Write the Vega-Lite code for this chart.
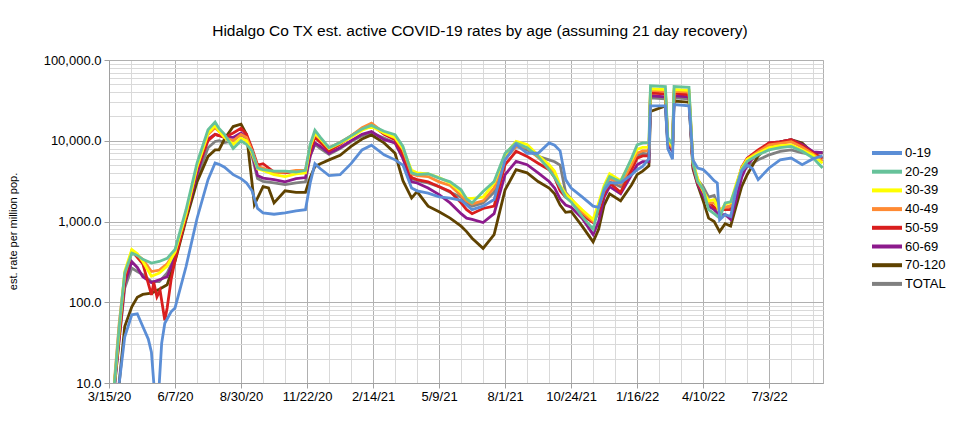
{
  "$schema": "https://vega.github.io/schema/vega-lite/v6.json",
  "width": 714,
  "height": 323,
  "autosize": "none",
  "padding": {"left": 109, "top": 60, "right": 137, "bottom": 55},
  "background": "white",
  "config": {"view": {"stroke": "#b0b0b0"}, "font": "Liberation Sans"},
  "title": {
    "text": "Hidalgo Co TX est. active COVID-19 rates by age (assuming 21 day recovery)",
    "font": "Liberation Sans", "fontSize": 15.5, "fontWeight": "normal", "color": "#000000",
    "anchor": "middle", "dx": 14, "offset": 15
  },
  "data": {"values": [
    {"d":"2020-03-22","s":"TOTAL","v":9},{"d":"2020-03-28","s":"TOTAL","v":35},{"d":"2020-04-04","s":"TOTAL","v":150},{"d":"2020-04-13","s":"TOTAL","v":265},{"d":"2020-04-20","s":"TOTAL","v":240},{"d":"2020-04-27","s":"TOTAL","v":220},{"d":"2020-05-08","s":"TOTAL","v":180},{"d":"2020-05-18","s":"TOTAL","v":180},{"d":"2020-05-28","s":"TOTAL","v":230},{"d":"2020-06-07","s":"TOTAL","v":370},{"d":"2020-06-21","s":"TOTAL","v":1150},{"d":"2020-07-05","s":"TOTAL","v":3500},{"d":"2020-07-19","s":"TOTAL","v":8200},{"d":"2020-07-28","s":"TOTAL","v":9800},{"d":"2020-08-02","s":"TOTAL","v":10000},{"d":"2020-08-09","s":"TOTAL","v":9500},{"d":"2020-08-20","s":"TOTAL","v":10000},{"d":"2020-08-30","s":"TOTAL","v":12000},{"d":"2020-09-06","s":"TOTAL","v":10500},{"d":"2020-09-13","s":"TOTAL","v":6500},{"d":"2020-09-20","s":"TOTAL","v":3400},{"d":"2020-09-27","s":"TOTAL","v":3130},{"d":"2020-10-11","s":"TOTAL","v":3000},{"d":"2020-10-25","s":"TOTAL","v":2870},{"d":"2020-11-08","s":"TOTAL","v":3000},{"d":"2020-11-20","s":"TOTAL","v":3100},{"d":"2020-11-26","s":"TOTAL","v":6500},{"d":"2020-12-02","s":"TOTAL","v":9000},{"d":"2020-12-09","s":"TOTAL","v":8000},{"d":"2020-12-20","s":"TOTAL","v":6800},
    {"d":"2021-01-03","s":"TOTAL","v":8000},{"d":"2021-01-17","s":"TOTAL","v":9800},{"d":"2021-01-31","s":"TOTAL","v":11500},{"d":"2021-02-12","s":"TOTAL","v":12500},{"d":"2021-02-28","s":"TOTAL","v":10800},{"d":"2021-03-14","s":"TOTAL","v":9400},{"d":"2021-03-24","s":"TOTAL","v":6200},{"d":"2021-04-04","s":"TOTAL","v":3400},{"d":"2021-04-11","s":"TOTAL","v":3200},{"d":"2021-04-25","s":"TOTAL","v":3000},{"d":"2021-05-09","s":"TOTAL","v":2700},{"d":"2021-05-23","s":"TOTAL","v":2300},{"d":"2021-06-06","s":"TOTAL","v":2000},{"d":"2021-06-13","s":"TOTAL","v":1700},{"d":"2021-06-20","s":"TOTAL","v":1550},{"d":"2021-07-04","s":"TOTAL","v":1700},{"d":"2021-07-18","s":"TOTAL","v":2300},{"d":"2021-08-01","s":"TOTAL","v":6000},{"d":"2021-08-15","s":"TOTAL","v":8500},{"d":"2021-08-29","s":"TOTAL","v":7700},{"d":"2021-09-12","s":"TOTAL","v":6400},{"d":"2021-09-26","s":"TOTAL","v":5800},{"d":"2021-10-03","s":"TOTAL","v":5500},{"d":"2021-10-10","s":"TOTAL","v":5000},{"d":"2021-10-17","s":"TOTAL","v":2300},{"d":"2021-10-24","s":"TOTAL","v":1900},{"d":"2021-11-07","s":"TOTAL","v":1300},{"d":"2021-11-21","s":"TOTAL","v":1000},{"d":"2021-11-28","s":"TOTAL","v":1400},{"d":"2021-12-05","s":"TOTAL","v":2300},{"d":"2021-12-12","s":"TOTAL","v":3100},{"d":"2021-12-26","s":"TOTAL","v":2700},
    {"d":"2022-01-09","s":"TOTAL","v":4600},{"d":"2022-01-16","s":"TOTAL","v":6500},{"d":"2022-01-23","s":"TOTAL","v":7000},{"d":"2022-01-31","s":"TOTAL","v":6800},{"d":"2022-02-02","s":"TOTAL","v":34000},{"d":"2022-02-21","s":"TOTAL","v":33000},{"d":"2022-02-24","s":"TOTAL","v":9500},{"d":"2022-03-02","s":"TOTAL","v":8000},{"d":"2022-03-04","s":"TOTAL","v":34000},{"d":"2022-03-23","s":"TOTAL","v":33000},{"d":"2022-03-28","s":"TOTAL","v":5300},{"d":"2022-04-03","s":"TOTAL","v":3300},{"d":"2022-04-10","s":"TOTAL","v":2700},{"d":"2022-04-17","s":"TOTAL","v":2000},{"d":"2022-04-24","s":"TOTAL","v":2100},{"d":"2022-05-01","s":"TOTAL","v":1400},{"d":"2022-05-08","s":"TOTAL","v":1500},{"d":"2022-05-15","s":"TOTAL","v":1550},{"d":"2022-05-22","s":"TOTAL","v":2500},{"d":"2022-05-29","s":"TOTAL","v":4000},{"d":"2022-06-05","s":"TOTAL","v":4800},{"d":"2022-06-19","s":"TOTAL","v":5800},{"d":"2022-07-03","s":"TOTAL","v":6700},{"d":"2022-07-17","s":"TOTAL","v":7400},{"d":"2022-07-31","s":"TOTAL","v":7700},{"d":"2022-08-14","s":"TOTAL","v":7100},{"d":"2022-08-28","s":"TOTAL","v":6800},{"d":"2022-09-09","s":"TOTAL","v":6000},

    {"d":"2020-03-28","s":"70-120","v":10},{"d":"2020-04-04","s":"70-120","v":50},{"d":"2020-04-13","s":"70-120","v":88},{"d":"2020-04-20","s":"70-120","v":115},{"d":"2020-04-27","s":"70-120","v":125},{"d":"2020-05-08","s":"70-120","v":130},{"d":"2020-05-18","s":"70-120","v":145},{"d":"2020-05-28","s":"70-120","v":165},{"d":"2020-06-07","s":"70-120","v":320},{"d":"2020-06-21","s":"70-120","v":1050},{"d":"2020-07-05","s":"70-120","v":3100},{"d":"2020-07-19","s":"70-120","v":6400},{"d":"2020-07-28","s":"70-120","v":7700},{"d":"2020-08-02","s":"70-120","v":7700},{"d":"2020-08-09","s":"70-120","v":10500},{"d":"2020-08-20","s":"70-120","v":15000},{"d":"2020-08-30","s":"70-120","v":16000},{"d":"2020-09-06","s":"70-120","v":12000},{"d":"2020-09-13","s":"70-120","v":3000},{"d":"2020-09-16","s":"70-120","v":1620},{"d":"2020-09-27","s":"70-120","v":2700},{"d":"2020-10-04","s":"70-120","v":2600},{"d":"2020-10-11","s":"70-120","v":1700},{"d":"2020-10-25","s":"70-120","v":2400},{"d":"2020-11-08","s":"70-120","v":2300},{"d":"2020-11-20","s":"70-120","v":2300},{"d":"2020-11-26","s":"70-120","v":3500},{"d":"2020-12-02","s":"70-120","v":4800},{"d":"2020-12-09","s":"70-120","v":5200},{"d":"2020-12-20","s":"70-120","v":5800},
    {"d":"2021-01-03","s":"70-120","v":6600},{"d":"2021-01-17","s":"70-120","v":8500},{"d":"2021-01-31","s":"70-120","v":10500},{"d":"2021-02-12","s":"70-120","v":11800},{"d":"2021-02-28","s":"70-120","v":9400},{"d":"2021-03-14","s":"70-120","v":7000},{"d":"2021-03-24","s":"70-120","v":3200},{"d":"2021-04-04","s":"70-120","v":1950},{"d":"2021-04-11","s":"70-120","v":2350},{"d":"2021-04-25","s":"70-120","v":1550},{"d":"2021-05-09","s":"70-120","v":1320},{"d":"2021-05-23","s":"70-120","v":1100},{"d":"2021-06-06","s":"70-120","v":875},{"d":"2021-06-13","s":"70-120","v":750},{"d":"2021-06-20","s":"70-120","v":620},{"d":"2021-07-04","s":"70-120","v":465},{"d":"2021-07-18","s":"70-120","v":690},{"d":"2021-08-01","s":"70-120","v":2470},{"d":"2021-08-15","s":"70-120","v":4380},{"d":"2021-08-29","s":"70-120","v":4000},{"d":"2021-09-12","s":"70-120","v":3130},{"d":"2021-09-26","s":"70-120","v":2600},{"d":"2021-10-03","s":"70-120","v":2200},{"d":"2021-10-10","s":"70-120","v":1600},{"d":"2021-10-17","s":"70-120","v":1300},{"d":"2021-10-24","s":"70-120","v":1330},{"d":"2021-11-07","s":"70-120","v":875},{"d":"2021-11-21","s":"70-120","v":560},{"d":"2021-11-28","s":"70-120","v":800},{"d":"2021-12-05","s":"70-120","v":1600},{"d":"2021-12-12","s":"70-120","v":2200},{"d":"2021-12-26","s":"70-120","v":1800},
    {"d":"2022-01-09","s":"70-120","v":2850},{"d":"2022-01-16","s":"70-120","v":3800},{"d":"2022-01-23","s":"70-120","v":4200},{"d":"2022-01-31","s":"70-120","v":4900},{"d":"2022-02-02","s":"70-120","v":23000},{"d":"2022-02-21","s":"70-120","v":27000},{"d":"2022-02-24","s":"70-120","v":9000},{"d":"2022-03-02","s":"70-120","v":7500},{"d":"2022-03-04","s":"70-120","v":31000},{"d":"2022-03-23","s":"70-120","v":30000},{"d":"2022-03-28","s":"70-120","v":4500},{"d":"2022-04-03","s":"70-120","v":2850},{"d":"2022-04-10","s":"70-120","v":1800},{"d":"2022-04-17","s":"70-120","v":1100},{"d":"2022-04-24","s":"70-120","v":1000},{"d":"2022-05-01","s":"70-120","v":750},{"d":"2022-05-08","s":"70-120","v":940},{"d":"2022-05-15","s":"70-120","v":880},{"d":"2022-05-22","s":"70-120","v":1550},{"d":"2022-05-29","s":"70-120","v":2700},{"d":"2022-06-05","s":"70-120","v":3800},{"d":"2022-06-19","s":"70-120","v":6500},{"d":"2022-07-03","s":"70-120","v":8700},{"d":"2022-07-17","s":"70-120","v":9700},{"d":"2022-07-31","s":"70-120","v":10300},{"d":"2022-08-14","s":"70-120","v":9400},{"d":"2022-08-28","s":"70-120","v":7000},{"d":"2022-09-09","s":"70-120","v":7100},

    {"d":"2020-03-22","s":"60-69","v":9},{"d":"2020-03-28","s":"60-69","v":35},{"d":"2020-04-04","s":"60-69","v":170},{"d":"2020-04-13","s":"60-69","v":318},{"d":"2020-04-20","s":"60-69","v":270},{"d":"2020-04-27","s":"60-69","v":207},{"d":"2020-05-08","s":"60-69","v":175},{"d":"2020-05-18","s":"60-69","v":190},{"d":"2020-05-28","s":"60-69","v":207},{"d":"2020-06-07","s":"60-69","v":360},{"d":"2020-06-21","s":"60-69","v":1150},{"d":"2020-07-05","s":"60-69","v":3900},{"d":"2020-07-19","s":"60-69","v":10500},{"d":"2020-07-28","s":"60-69","v":12000},{"d":"2020-08-02","s":"60-69","v":11600},{"d":"2020-08-09","s":"60-69","v":11000},{"d":"2020-08-20","s":"60-69","v":11000},{"d":"2020-08-30","s":"60-69","v":12500},{"d":"2020-09-06","s":"60-69","v":11000},{"d":"2020-09-13","s":"60-69","v":7000},{"d":"2020-09-20","s":"60-69","v":3700},{"d":"2020-09-27","s":"60-69","v":3450},{"d":"2020-10-11","s":"60-69","v":3300},{"d":"2020-10-25","s":"60-69","v":3100},{"d":"2020-11-08","s":"60-69","v":3400},{"d":"2020-11-20","s":"60-69","v":3500},{"d":"2020-11-26","s":"60-69","v":6500},{"d":"2020-12-02","s":"60-69","v":9400},{"d":"2020-12-09","s":"60-69","v":8500},{"d":"2020-12-20","s":"60-69","v":7000},
    {"d":"2021-01-03","s":"60-69","v":8200},{"d":"2021-01-17","s":"60-69","v":10000},{"d":"2021-01-31","s":"60-69","v":12000},{"d":"2021-02-12","s":"60-69","v":13000},{"d":"2021-02-28","s":"60-69","v":10300},{"d":"2021-03-14","s":"60-69","v":9400},{"d":"2021-03-24","s":"60-69","v":6000},{"d":"2021-04-04","s":"60-69","v":3100},{"d":"2021-04-11","s":"60-69","v":3000},{"d":"2021-04-25","s":"60-69","v":2600},{"d":"2021-05-09","s":"60-69","v":2150},{"d":"2021-05-23","s":"60-69","v":1700},{"d":"2021-06-06","s":"60-69","v":1250},{"d":"2021-06-13","s":"60-69","v":1100},{"d":"2021-06-20","s":"60-69","v":1060},{"d":"2021-07-04","s":"60-69","v":970},{"d":"2021-07-18","s":"60-69","v":1250},{"d":"2021-08-01","s":"60-69","v":3800},{"d":"2021-08-15","s":"60-69","v":5550},{"d":"2021-08-29","s":"60-69","v":5050},{"d":"2021-09-12","s":"60-69","v":4000},{"d":"2021-09-26","s":"60-69","v":3130},{"d":"2021-10-03","s":"60-69","v":2600},{"d":"2021-10-10","s":"60-69","v":1900},{"d":"2021-10-17","s":"60-69","v":1600},{"d":"2021-10-24","s":"60-69","v":1500},{"d":"2021-11-07","s":"60-69","v":1100},{"d":"2021-11-21","s":"60-69","v":690},{"d":"2021-11-28","s":"60-69","v":1000},{"d":"2021-12-05","s":"60-69","v":2000},{"d":"2021-12-12","s":"60-69","v":2700},{"d":"2021-12-26","s":"60-69","v":2200},
    {"d":"2022-01-09","s":"60-69","v":3800},{"d":"2022-01-16","s":"60-69","v":5050},{"d":"2022-01-23","s":"60-69","v":5500},{"d":"2022-01-31","s":"60-69","v":5500},{"d":"2022-02-02","s":"60-69","v":36000},{"d":"2022-02-21","s":"60-69","v":35000},{"d":"2022-02-24","s":"60-69","v":9500},{"d":"2022-03-02","s":"60-69","v":7500},{"d":"2022-03-04","s":"60-69","v":36000},{"d":"2022-03-23","s":"60-69","v":35000},{"d":"2022-03-28","s":"60-69","v":4800},{"d":"2022-04-03","s":"60-69","v":2900},{"d":"2022-04-10","s":"60-69","v":2100},{"d":"2022-04-17","s":"60-69","v":1550},{"d":"2022-04-24","s":"60-69","v":1400},{"d":"2022-05-01","s":"60-69","v":1200},{"d":"2022-05-08","s":"60-69","v":1220},{"d":"2022-05-15","s":"60-69","v":1060},{"d":"2022-05-22","s":"60-69","v":1870},{"d":"2022-05-29","s":"60-69","v":3500},{"d":"2022-06-05","s":"60-69","v":5050},{"d":"2022-06-19","s":"60-69","v":7200},{"d":"2022-07-03","s":"60-69","v":9400},{"d":"2022-07-17","s":"60-69","v":9700},{"d":"2022-07-31","s":"60-69","v":10300},{"d":"2022-08-14","s":"60-69","v":9000},{"d":"2022-08-28","s":"60-69","v":7300},{"d":"2022-09-09","s":"60-69","v":7100},

    {"d":"2020-03-22","s":"50-59","v":10},{"d":"2020-03-28","s":"50-59","v":38},{"d":"2020-04-04","s":"50-59","v":190},{"d":"2020-04-13","s":"50-59","v":430},{"d":"2020-04-20","s":"50-59","v":360},{"d":"2020-04-27","s":"50-59","v":300},{"d":"2020-05-08","s":"50-59","v":123},{"d":"2020-05-11","s":"50-59","v":175},{"d":"2020-05-15","s":"50-59","v":117},{"d":"2020-05-19","s":"50-59","v":140},{"d":"2020-05-25","s":"50-59","v":60},{"d":"2020-05-28","s":"50-59","v":85},{"d":"2020-06-02","s":"50-59","v":190},{"d":"2020-06-07","s":"50-59","v":330},{"d":"2020-06-21","s":"50-59","v":1150},{"d":"2020-07-05","s":"50-59","v":4500},{"d":"2020-07-19","s":"50-59","v":10000},{"d":"2020-07-28","s":"50-59","v":12000},{"d":"2020-08-02","s":"50-59","v":11600},{"d":"2020-08-09","s":"50-59","v":11000},{"d":"2020-08-20","s":"50-59","v":12500},{"d":"2020-08-30","s":"50-59","v":14300},{"d":"2020-09-06","s":"50-59","v":12000},{"d":"2020-09-13","s":"50-59","v":8000},{"d":"2020-09-20","s":"50-59","v":5000},{"d":"2020-09-27","s":"50-59","v":5200},{"d":"2020-10-11","s":"50-59","v":4100},{"d":"2020-10-25","s":"50-59","v":4000},{"d":"2020-11-08","s":"50-59","v":4200},{"d":"2020-11-20","s":"50-59","v":4200},{"d":"2020-11-26","s":"50-59","v":7500},{"d":"2020-12-02","s":"50-59","v":11000},{"d":"2020-12-09","s":"50-59","v":9500},{"d":"2020-12-20","s":"50-59","v":7500},
    {"d":"2021-01-03","s":"50-59","v":9000},{"d":"2021-01-17","s":"50-59","v":11500},{"d":"2021-01-31","s":"50-59","v":14000},{"d":"2021-02-12","s":"50-59","v":15800},{"d":"2021-02-28","s":"50-59","v":12000},{"d":"2021-03-14","s":"50-59","v":10300},{"d":"2021-03-24","s":"50-59","v":6800},{"d":"2021-04-04","s":"50-59","v":3500},{"d":"2021-04-11","s":"50-59","v":3300},{"d":"2021-04-25","s":"50-59","v":3100},{"d":"2021-05-09","s":"50-59","v":2700},{"d":"2021-05-23","s":"50-59","v":2350},{"d":"2021-06-06","s":"50-59","v":1700},{"d":"2021-06-13","s":"50-59","v":1400},{"d":"2021-06-20","s":"50-59","v":1250},{"d":"2021-07-04","s":"50-59","v":1450},{"d":"2021-07-18","s":"50-59","v":1550},{"d":"2021-08-01","s":"50-59","v":5050},{"d":"2021-08-15","s":"50-59","v":7400},{"d":"2021-08-29","s":"50-59","v":6400},{"d":"2021-09-12","s":"50-59","v":5270},{"d":"2021-09-26","s":"50-59","v":4380},{"d":"2021-10-03","s":"50-59","v":3500},{"d":"2021-10-10","s":"50-59","v":2400},{"d":"2021-10-17","s":"50-59","v":2000},{"d":"2021-10-24","s":"50-59","v":1850},{"d":"2021-11-07","s":"50-59","v":1200},{"d":"2021-11-21","s":"50-59","v":970},{"d":"2021-11-28","s":"50-59","v":1300},{"d":"2021-12-05","s":"50-59","v":2200},{"d":"2021-12-12","s":"50-59","v":3000},{"d":"2021-12-26","s":"50-59","v":2300},
    {"d":"2022-01-09","s":"50-59","v":4380},{"d":"2022-01-16","s":"50-59","v":6100},{"d":"2022-01-23","s":"50-59","v":6500},{"d":"2022-01-31","s":"50-59","v":6500},{"d":"2022-02-02","s":"50-59","v":39000},{"d":"2022-02-21","s":"50-59","v":38000},{"d":"2022-02-24","s":"50-59","v":10000},{"d":"2022-03-02","s":"50-59","v":8000},{"d":"2022-03-04","s":"50-59","v":39000},{"d":"2022-03-23","s":"50-59","v":37000},{"d":"2022-03-28","s":"50-59","v":5000},{"d":"2022-04-03","s":"50-59","v":3000},{"d":"2022-04-10","s":"50-59","v":2300},{"d":"2022-04-17","s":"50-59","v":1750},{"d":"2022-04-24","s":"50-59","v":1500},{"d":"2022-05-01","s":"50-59","v":1400},{"d":"2022-05-08","s":"50-59","v":1400},{"d":"2022-05-15","s":"50-59","v":1400},{"d":"2022-05-22","s":"50-59","v":2700},{"d":"2022-05-29","s":"50-59","v":4700},{"d":"2022-06-05","s":"50-59","v":6100},{"d":"2022-06-19","s":"50-59","v":7700},{"d":"2022-07-03","s":"50-59","v":9400},{"d":"2022-07-17","s":"50-59","v":9700},{"d":"2022-07-31","s":"50-59","v":10300},{"d":"2022-08-14","s":"50-59","v":8700},{"d":"2022-08-28","s":"50-59","v":7000},{"d":"2022-09-09","s":"50-59","v":6100},

    {"d":"2020-03-22","s":"40-49","v":11},{"d":"2020-03-28","s":"40-49","v":55},{"d":"2020-04-04","s":"40-49","v":220},{"d":"2020-04-13","s":"40-49","v":430},{"d":"2020-04-20","s":"40-49","v":380},{"d":"2020-04-27","s":"40-49","v":340},{"d":"2020-05-08","s":"40-49","v":240},{"d":"2020-05-18","s":"40-49","v":250},{"d":"2020-05-28","s":"40-49","v":300},{"d":"2020-06-07","s":"40-49","v":420},{"d":"2020-06-21","s":"40-49","v":1250},{"d":"2020-07-05","s":"40-49","v":4800},{"d":"2020-07-19","s":"40-49","v":12000},{"d":"2020-07-28","s":"40-49","v":14500},{"d":"2020-08-02","s":"40-49","v":13000},{"d":"2020-08-09","s":"40-49","v":11000},{"d":"2020-08-20","s":"40-49","v":10000},{"d":"2020-08-30","s":"40-49","v":12000},{"d":"2020-09-06","s":"40-49","v":11000},{"d":"2020-09-13","s":"40-49","v":7500},{"d":"2020-09-20","s":"40-49","v":4800},{"d":"2020-09-27","s":"40-49","v":4600},{"d":"2020-10-11","s":"40-49","v":4000},{"d":"2020-10-25","s":"40-49","v":4100},{"d":"2020-11-08","s":"40-49","v":4300},{"d":"2020-11-20","s":"40-49","v":4300},{"d":"2020-11-26","s":"40-49","v":8500},{"d":"2020-12-02","s":"40-49","v":12000},{"d":"2020-12-09","s":"40-49","v":10500},{"d":"2020-12-20","s":"40-49","v":8200},
    {"d":"2021-01-03","s":"40-49","v":9500},{"d":"2021-01-17","s":"40-49","v":11500},{"d":"2021-01-31","s":"40-49","v":14500},{"d":"2021-02-12","s":"40-49","v":16500},{"d":"2021-02-28","s":"40-49","v":12500},{"d":"2021-03-14","s":"40-49","v":10800},{"d":"2021-03-24","s":"40-49","v":7800},{"d":"2021-04-04","s":"40-49","v":3900},{"d":"2021-04-11","s":"40-49","v":3700},{"d":"2021-04-25","s":"40-49","v":3600},{"d":"2021-05-09","s":"40-49","v":3100},{"d":"2021-05-23","s":"40-49","v":2800},{"d":"2021-06-06","s":"40-49","v":2100},{"d":"2021-06-13","s":"40-49","v":1800},{"d":"2021-06-20","s":"40-49","v":1650},{"d":"2021-07-04","s":"40-49","v":1800},{"d":"2021-07-18","s":"40-49","v":2600},{"d":"2021-08-01","s":"40-49","v":6300},{"d":"2021-08-15","s":"40-49","v":8500},{"d":"2021-08-29","s":"40-49","v":8200},{"d":"2021-09-12","s":"40-49","v":6200},{"d":"2021-09-26","s":"40-49","v":4800},{"d":"2021-10-03","s":"40-49","v":4000},{"d":"2021-10-10","s":"40-49","v":2700},{"d":"2021-10-17","s":"40-49","v":2100},{"d":"2021-10-24","s":"40-49","v":1850},{"d":"2021-11-07","s":"40-49","v":1300},{"d":"2021-11-21","s":"40-49","v":1000},{"d":"2021-11-28","s":"40-49","v":1500},{"d":"2021-12-05","s":"40-49","v":2500},{"d":"2021-12-12","s":"40-49","v":3400},{"d":"2021-12-26","s":"40-49","v":2900},
    {"d":"2022-01-09","s":"40-49","v":5050},{"d":"2022-01-16","s":"40-49","v":7000},{"d":"2022-01-23","s":"40-49","v":7500},{"d":"2022-01-31","s":"40-49","v":7500},{"d":"2022-02-02","s":"40-49","v":42000},{"d":"2022-02-21","s":"40-49","v":41000},{"d":"2022-02-24","s":"40-49","v":10000},{"d":"2022-03-02","s":"40-49","v":8000},{"d":"2022-03-04","s":"40-49","v":41000},{"d":"2022-03-23","s":"40-49","v":40000},{"d":"2022-03-28","s":"40-49","v":5300},{"d":"2022-04-03","s":"40-49","v":3200},{"d":"2022-04-10","s":"40-49","v":2400},{"d":"2022-04-17","s":"40-49","v":1700},{"d":"2022-04-24","s":"40-49","v":1700},{"d":"2022-05-01","s":"40-49","v":1400},{"d":"2022-05-08","s":"40-49","v":1500},{"d":"2022-05-15","s":"40-49","v":1550},{"d":"2022-05-22","s":"40-49","v":2600},{"d":"2022-05-29","s":"40-49","v":4500},{"d":"2022-06-05","s":"40-49","v":5900},{"d":"2022-06-19","s":"40-49","v":7300},{"d":"2022-07-03","s":"40-49","v":8900},{"d":"2022-07-17","s":"40-49","v":9300},{"d":"2022-07-31","s":"40-49","v":9700},{"d":"2022-08-14","s":"40-49","v":8300},{"d":"2022-08-28","s":"40-49","v":6800},{"d":"2022-09-09","s":"40-49","v":5600},

    {"d":"2020-03-22","s":"30-39","v":10},{"d":"2020-03-28","s":"30-39","v":45},{"d":"2020-04-04","s":"30-39","v":240},{"d":"2020-04-13","s":"30-39","v":450},{"d":"2020-04-20","s":"30-39","v":400},{"d":"2020-04-27","s":"30-39","v":320},{"d":"2020-05-08","s":"30-39","v":210},{"d":"2020-05-18","s":"30-39","v":230},{"d":"2020-05-28","s":"30-39","v":280},{"d":"2020-06-07","s":"30-39","v":420},{"d":"2020-06-21","s":"30-39","v":1250},{"d":"2020-07-05","s":"30-39","v":4800},{"d":"2020-07-19","s":"30-39","v":12400},{"d":"2020-07-28","s":"30-39","v":15500},{"d":"2020-08-02","s":"30-39","v":13100},{"d":"2020-08-09","s":"30-39","v":11000},{"d":"2020-08-20","s":"30-39","v":9000},{"d":"2020-08-30","s":"30-39","v":10800},{"d":"2020-09-06","s":"30-39","v":10000},{"d":"2020-09-13","s":"30-39","v":7000},{"d":"2020-09-20","s":"30-39","v":4500},{"d":"2020-09-27","s":"30-39","v":4300},{"d":"2020-10-11","s":"30-39","v":3800},{"d":"2020-10-25","s":"30-39","v":3600},{"d":"2020-11-08","s":"30-39","v":3900},{"d":"2020-11-20","s":"30-39","v":4000},{"d":"2020-11-26","s":"30-39","v":8500},{"d":"2020-12-02","s":"30-39","v":12500},{"d":"2020-12-09","s":"30-39","v":10500},{"d":"2020-12-20","s":"30-39","v":8000},
    {"d":"2021-01-03","s":"30-39","v":9300},{"d":"2021-01-17","s":"30-39","v":11000},{"d":"2021-01-31","s":"30-39","v":13500},{"d":"2021-02-12","s":"30-39","v":15000},{"d":"2021-02-28","s":"30-39","v":12500},{"d":"2021-03-14","s":"30-39","v":11000},{"d":"2021-03-24","s":"30-39","v":8000},{"d":"2021-04-04","s":"30-39","v":4300},{"d":"2021-04-11","s":"30-39","v":4000},{"d":"2021-04-25","s":"30-39","v":3900},{"d":"2021-05-09","s":"30-39","v":3500},{"d":"2021-05-23","s":"30-39","v":3000},{"d":"2021-06-06","s":"30-39","v":2300},{"d":"2021-06-13","s":"30-39","v":1950},{"d":"2021-06-20","s":"30-39","v":1930},{"d":"2021-07-04","s":"30-39","v":2000},{"d":"2021-07-18","s":"30-39","v":3000},{"d":"2021-08-01","s":"30-39","v":6700},{"d":"2021-08-15","s":"30-39","v":9800},{"d":"2021-08-29","s":"30-39","v":9000},{"d":"2021-09-12","s":"30-39","v":6600},{"d":"2021-09-26","s":"30-39","v":5050},{"d":"2021-10-03","s":"30-39","v":4200},{"d":"2021-10-10","s":"30-39","v":2800},{"d":"2021-10-17","s":"30-39","v":2200},{"d":"2021-10-24","s":"30-39","v":1900},{"d":"2021-11-07","s":"30-39","v":1400},{"d":"2021-11-21","s":"30-39","v":1060},{"d":"2021-11-28","s":"30-39","v":1700},{"d":"2021-12-05","s":"30-39","v":2800},{"d":"2021-12-12","s":"30-39","v":3900},{"d":"2021-12-26","s":"30-39","v":3200},
    {"d":"2022-01-09","s":"30-39","v":5800},{"d":"2022-01-16","s":"30-39","v":7800},{"d":"2022-01-23","s":"30-39","v":8300},{"d":"2022-01-31","s":"30-39","v":8300},{"d":"2022-02-02","s":"30-39","v":44000},{"d":"2022-02-21","s":"30-39","v":43000},{"d":"2022-02-24","s":"30-39","v":10500},{"d":"2022-03-02","s":"30-39","v":8500},{"d":"2022-03-04","s":"30-39","v":43000},{"d":"2022-03-23","s":"30-39","v":42000},{"d":"2022-03-28","s":"30-39","v":5500},{"d":"2022-04-03","s":"30-39","v":3400},{"d":"2022-04-10","s":"30-39","v":2400},{"d":"2022-04-17","s":"30-39","v":1800},{"d":"2022-04-24","s":"30-39","v":1870},{"d":"2022-05-01","s":"30-39","v":1300},{"d":"2022-05-08","s":"30-39","v":1650},{"d":"2022-05-15","s":"30-39","v":1700},{"d":"2022-05-22","s":"30-39","v":2900},{"d":"2022-05-29","s":"30-39","v":4600},{"d":"2022-06-05","s":"30-39","v":5900},{"d":"2022-06-19","s":"30-39","v":7000},{"d":"2022-07-03","s":"30-39","v":8200},{"d":"2022-07-17","s":"30-39","v":8700},{"d":"2022-07-31","s":"30-39","v":8900},{"d":"2022-08-14","s":"30-39","v":7700},{"d":"2022-08-28","s":"30-39","v":6600},{"d":"2022-09-09","s":"30-39","v":5270},

    {"d":"2020-03-22","s":"20-29","v":10},{"d":"2020-03-28","s":"20-29","v":50},{"d":"2020-04-04","s":"20-29","v":230},{"d":"2020-04-13","s":"20-29","v":405},{"d":"2020-04-20","s":"20-29","v":380},{"d":"2020-04-27","s":"20-29","v":340},{"d":"2020-05-08","s":"20-29","v":305},{"d":"2020-05-18","s":"20-29","v":320},{"d":"2020-05-28","s":"20-29","v":350},{"d":"2020-06-07","s":"20-29","v":450},{"d":"2020-06-21","s":"20-29","v":1400},{"d":"2020-07-05","s":"20-29","v":5300},{"d":"2020-07-19","s":"20-29","v":13700},{"d":"2020-07-28","s":"20-29","v":17000},{"d":"2020-08-02","s":"20-29","v":14200},{"d":"2020-08-09","s":"20-29","v":12000},{"d":"2020-08-20","s":"20-29","v":8000},{"d":"2020-08-30","s":"20-29","v":10000},{"d":"2020-09-06","s":"20-29","v":9000},{"d":"2020-09-13","s":"20-29","v":7500},{"d":"2020-09-20","s":"20-29","v":4600},{"d":"2020-09-27","s":"20-29","v":4400},{"d":"2020-10-11","s":"20-29","v":4200},{"d":"2020-10-25","s":"20-29","v":4200},{"d":"2020-11-08","s":"20-29","v":4100},{"d":"2020-11-20","s":"20-29","v":4300},{"d":"2020-11-26","s":"20-29","v":9000},{"d":"2020-12-02","s":"20-29","v":13500},{"d":"2020-12-09","s":"20-29","v":11000},{"d":"2020-12-20","s":"20-29","v":8200},
    {"d":"2021-01-03","s":"20-29","v":9500},{"d":"2021-01-17","s":"20-29","v":11500},{"d":"2021-01-31","s":"20-29","v":14000},{"d":"2021-02-12","s":"20-29","v":15500},{"d":"2021-02-28","s":"20-29","v":13100},{"d":"2021-03-14","s":"20-29","v":11900},{"d":"2021-03-24","s":"20-29","v":8500},{"d":"2021-04-04","s":"20-29","v":4000},{"d":"2021-04-11","s":"20-29","v":3800},{"d":"2021-04-25","s":"20-29","v":3900},{"d":"2021-05-09","s":"20-29","v":3450},{"d":"2021-05-23","s":"20-29","v":3100},{"d":"2021-06-06","s":"20-29","v":2470},{"d":"2021-06-13","s":"20-29","v":1900},{"d":"2021-06-20","s":"20-29","v":1700},{"d":"2021-07-04","s":"20-29","v":2350},{"d":"2021-07-18","s":"20-29","v":3130},{"d":"2021-08-01","s":"20-29","v":7000},{"d":"2021-08-15","s":"20-29","v":9400},{"d":"2021-08-29","s":"20-29","v":8200},{"d":"2021-09-12","s":"20-29","v":6400},{"d":"2021-09-26","s":"20-29","v":4400},{"d":"2021-10-03","s":"20-29","v":3500},{"d":"2021-10-10","s":"20-29","v":2700},{"d":"2021-10-17","s":"20-29","v":2000},{"d":"2021-10-24","s":"20-29","v":1750},{"d":"2021-11-07","s":"20-29","v":1160},{"d":"2021-11-21","s":"20-29","v":800},{"d":"2021-11-28","s":"20-29","v":1500},{"d":"2021-12-05","s":"20-29","v":2600},{"d":"2021-12-12","s":"20-29","v":3600},{"d":"2021-12-26","s":"20-29","v":3100},
    {"d":"2022-01-09","s":"20-29","v":6100},{"d":"2022-01-16","s":"20-29","v":8900},{"d":"2022-01-23","s":"20-29","v":9400},{"d":"2022-01-31","s":"20-29","v":9500},{"d":"2022-02-02","s":"20-29","v":48000},{"d":"2022-02-21","s":"20-29","v":47000},{"d":"2022-02-24","s":"20-29","v":11000},{"d":"2022-03-02","s":"20-29","v":9000},{"d":"2022-03-04","s":"20-29","v":47000},{"d":"2022-03-23","s":"20-29","v":46000},{"d":"2022-03-28","s":"20-29","v":5300},{"d":"2022-04-03","s":"20-29","v":3100},{"d":"2022-04-10","s":"20-29","v":2500},{"d":"2022-04-17","s":"20-29","v":1400},{"d":"2022-04-24","s":"20-29","v":1250},{"d":"2022-05-01","s":"20-29","v":1100},{"d":"2022-05-08","s":"20-29","v":1700},{"d":"2022-05-15","s":"20-29","v":1750},{"d":"2022-05-22","s":"20-29","v":2700},{"d":"2022-05-29","s":"20-29","v":4400},{"d":"2022-06-05","s":"20-29","v":5550},{"d":"2022-06-19","s":"20-29","v":6700},{"d":"2022-07-03","s":"20-29","v":7700},{"d":"2022-07-17","s":"20-29","v":8200},{"d":"2022-07-31","s":"20-29","v":8500},{"d":"2022-08-14","s":"20-29","v":7400},{"d":"2022-08-28","s":"20-29","v":6100},{"d":"2022-09-09","s":"20-29","v":4600},

    {"d":"2020-03-28","s":"0-19","v":10},{"d":"2020-04-04","s":"0-19","v":37},{"d":"2020-04-13","s":"0-19","v":70},{"d":"2020-04-20","s":"0-19","v":72},{"d":"2020-04-27","s":"0-19","v":50},{"d":"2020-05-04","s":"0-19","v":35},{"d":"2020-05-08","s":"0-19","v":24},{"d":"2020-05-11","s":"0-19","v":10},{"d":"2020-05-13","s":"0-19","v":1},{"d":"2020-05-16","s":"0-19","v":1},{"d":"2020-05-18","s":"0-19","v":10},{"d":"2020-05-21","s":"0-19","v":31},{"d":"2020-05-25","s":"0-19","v":55},{"d":"2020-06-02","s":"0-19","v":76},{"d":"2020-06-07","s":"0-19","v":85},{"d":"2020-06-21","s":"0-19","v":275},{"d":"2020-07-05","s":"0-19","v":1090},{"d":"2020-07-19","s":"0-19","v":3300},{"d":"2020-07-28","s":"0-19","v":5300},{"d":"2020-08-02","s":"0-19","v":5100},{"d":"2020-08-09","s":"0-19","v":4700},{"d":"2020-08-20","s":"0-19","v":3800},{"d":"2020-08-30","s":"0-19","v":3400},{"d":"2020-09-06","s":"0-19","v":3000},{"d":"2020-09-13","s":"0-19","v":2400},{"d":"2020-09-20","s":"0-19","v":1450},{"d":"2020-09-27","s":"0-19","v":1280},{"d":"2020-10-11","s":"0-19","v":1230},{"d":"2020-10-25","s":"0-19","v":1280},{"d":"2020-11-08","s":"0-19","v":1350},{"d":"2020-11-20","s":"0-19","v":1400},{"d":"2020-11-26","s":"0-19","v":3000},{"d":"2020-12-02","s":"0-19","v":5200},{"d":"2020-12-09","s":"0-19","v":4500},{"d":"2020-12-20","s":"0-19","v":3700},
    {"d":"2021-01-03","s":"0-19","v":3800},{"d":"2021-01-17","s":"0-19","v":5200},{"d":"2021-01-31","s":"0-19","v":7700},{"d":"2021-02-12","s":"0-19","v":8800},{"d":"2021-02-28","s":"0-19","v":6700},{"d":"2021-03-14","s":"0-19","v":5800},{"d":"2021-03-24","s":"0-19","v":5000},{"d":"2021-04-04","s":"0-19","v":2600},{"d":"2021-04-11","s":"0-19","v":2400},{"d":"2021-04-25","s":"0-19","v":2250},{"d":"2021-05-09","s":"0-19","v":2020},{"d":"2021-05-23","s":"0-19","v":1950},{"d":"2021-06-06","s":"0-19","v":1830},{"d":"2021-06-13","s":"0-19","v":1600},{"d":"2021-06-20","s":"0-19","v":1400},{"d":"2021-07-04","s":"0-19","v":1550},{"d":"2021-07-18","s":"0-19","v":1870},{"d":"2021-08-01","s":"0-19","v":5800},{"d":"2021-08-15","s":"0-19","v":9000},{"d":"2021-08-29","s":"0-19","v":7000},{"d":"2021-09-12","s":"0-19","v":7000},{"d":"2021-09-26","s":"0-19","v":9400},{"d":"2021-10-03","s":"0-19","v":8800},{"d":"2021-10-10","s":"0-19","v":7500},{"d":"2021-10-17","s":"0-19","v":3300},{"d":"2021-10-24","s":"0-19","v":2600},{"d":"2021-11-07","s":"0-19","v":2020},{"d":"2021-11-21","s":"0-19","v":1550},{"d":"2021-11-28","s":"0-19","v":1500},{"d":"2021-12-05","s":"0-19","v":2400},{"d":"2021-12-12","s":"0-19","v":3000},{"d":"2021-12-26","s":"0-19","v":3000},
    {"d":"2022-01-09","s":"0-19","v":3800},{"d":"2022-01-16","s":"0-19","v":4380},{"d":"2022-01-23","s":"0-19","v":4800},{"d":"2022-01-31","s":"0-19","v":6000},{"d":"2022-02-02","s":"0-19","v":27000},{"d":"2022-02-21","s":"0-19","v":27000},{"d":"2022-02-24","s":"0-19","v":8000},{"d":"2022-03-02","s":"0-19","v":5900},{"d":"2022-03-04","s":"0-19","v":28000},{"d":"2022-03-23","s":"0-19","v":27000},{"d":"2022-03-28","s":"0-19","v":5800},{"d":"2022-04-03","s":"0-19","v":4600},{"d":"2022-04-10","s":"0-19","v":4400},{"d":"2022-04-17","s":"0-19","v":3800},{"d":"2022-04-24","s":"0-19","v":3200},{"d":"2022-04-28","s":"0-19","v":3000},{"d":"2022-05-01","s":"0-19","v":1050},{"d":"2022-05-08","s":"0-19","v":1220},{"d":"2022-05-15","s":"0-19","v":1150},{"d":"2022-05-22","s":"0-19","v":2500},{"d":"2022-05-29","s":"0-19","v":4200},{"d":"2022-06-05","s":"0-19","v":5000},{"d":"2022-06-12","s":"0-19","v":4500},{"d":"2022-06-19","s":"0-19","v":3300},{"d":"2022-07-03","s":"0-19","v":4600},{"d":"2022-07-17","s":"0-19","v":5800},{"d":"2022-07-31","s":"0-19","v":6100},{"d":"2022-08-14","s":"0-19","v":5050},{"d":"2022-08-28","s":"0-19","v":6000},{"d":"2022-09-09","s":"0-19","v":6500}
  ]},
  "mark": {"type": "line", "strokeWidth": 2.8, "clip": true},
  "encoding": {
    "x": {
      "field": "d", "type": "temporal",
      "scale": {"type": "utc", "domain": [1584230400000, 1662724800000]},
      "axis": {
        "title": null,
        "values": [1584230400000,1586649600000,1589068800000,1591488000000,1593907200000,1596326400000,1598745600000,1601164800000,1603584000000,1606003200000,1608422400000,1610841600000,1613260800000,1615680000000,1618099200000,1620518400000,1622937600000,1625356800000,1627776000000,1630195200000,1632614400000,1635033600000,1637452800000,1639872000000,1642291200000,1644710400000,1647129600000,1649548800000,1651968000000,1654387200000,1656806400000,1659225600000,1661644800000],
        "labelExpr": "((datum.value - 1584230400000) % 7257600000) === 0 ? utcFormat(datum.value, '%-m/%-d/%y') : ''",
        "gridColor": {"condition": {"test": "((datum.value - 1584230400000) % 7257600000) === 0", "value": "#b0b0b0"}, "value": "#d9d9d9"},
        "tickColor": {"condition": {"test": "((datum.value - 1584230400000) % 7257600000) === 0", "value": "#a0a0a0"}, "value": "transparent"},
        "tickSize": 5, "domainColor": "#a0a0a0",
        "labelFontSize": 13, "labelColor": "#000000", "labelPadding": 2,
        "labelFlush": false, "labelOverlap": false
      }
    },
    "y": {
      "field": "v", "type": "quantitative",
      "scale": {"type": "log", "domain": [10, 100000]},
      "axis": {
        "title": "est. rate per million pop.",
        "values": [10,20,30,40,50,60,70,80,90,100,200,300,400,500,600,700,800,900,1000,2000,3000,4000,5000,6000,7000,8000,9000,10000,20000,30000,40000,50000,60000,70000,80000,90000,100000],
        "labelExpr": "indexof([10,100,1000,10000,100000], datum.value) >= 0 ? format(datum.value, ',.1f') : ''",
        "gridColor": {"condition": {"test": "indexof([10,100,1000,10000,100000], datum.value) >= 0", "value": "#b0b0b0"}, "value": "#d9d9d9"},
        "tickColor": {"condition": {"test": "indexof([10,100,1000,10000,100000], datum.value) >= 0", "value": "#a0a0a0"}, "value": "transparent"},
        "tickSize": 5, "domainColor": "#a0a0a0",
        "labelFontSize": 13, "labelColor": "#000000", "labelPadding": 3,
        "labelFlush": false, "labelOverlap": false,
        "titleFontSize": 11, "titleFontWeight": "normal", "titleColor": "#000000",
        "titleX": -91, "titleY": 171
      }
    },
    "color": {
      "field": "s", "type": "nominal",
      "scale": {
        "domain": ["0-19","20-29","30-39","40-49","50-59","60-69","70-120","TOTAL"],
        "range": ["#5b8ed6","#66c29a","#ffff00","#ff8a33","#d91e1e","#8c1a8c","#5f4200","#808080"]
      },
      "legend": {
        "title": null, "orient": "none", "legendX": 770, "legendY": 85,
        "symbolType": "M-2.5,0H2.5", "symbolStrokeWidth": 4, "symbolSize": 144,
        "labelFontSize": 13, "labelColor": "#000000", "labelOffset": 10, "rowPadding": 2.7
      }
    }
  }
}
